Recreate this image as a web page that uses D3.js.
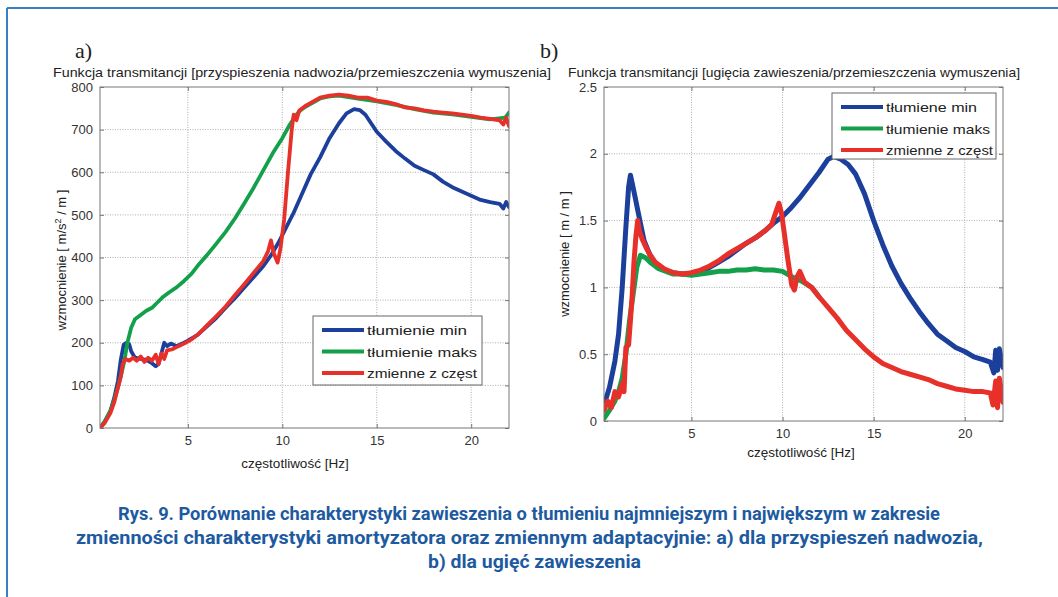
<!DOCTYPE html>
<html><head><meta charset="utf-8">
<script src="https://cdn.jsdelivr.net/npm/d3@7"></script>
<style>
html,body{margin:0;padding:0;background:#fff;}
svg text{font-family:"Liberation Sans",Arial,sans-serif;}
</style></head>
<body>
<svg id="c" width="1058" height="597"></svg>
<script>
// ---------- DATA ----------
const xTicks = [5, 10, 15, 20];
const aYTicks = [0, 100, 200, 300, 400, 500, 600, 700, 800];
const bYTicks = [0, 0.5, 1, 1.5, 2, 2.5];
const aLegend = ["tłumienie min", "tłumienie maks", "zmienne z częst"];
const bLegend = ["tłumiene min", "tłumienie maks", "zmienne z częst"];
const aTitle = "Funkcja transmitancji [przyspieszenia nadwozia/przemieszczenia wymuszenia]";
const bTitle = "Funkcja transmitancji [ugięcia zawieszenia/przemieszczenia wymuszenia]";
const captionLines = [
  "Rys. 9. Porównanie charakterystyki zawieszenia o tłumieniu najmniejszym i największym w zakresie",
  "zmienności charakterystyki amortyzatora oraz zmiennym adaptacyjnie: a) dla przyspieszeń nadwozia,",
  "b) dla ugięć zawieszenia"
];

// chart a) [frequency Hz, gain]
const aMin = [[0.35,0],[0.6,15],[0.9,40],[1.1,70],[1.3,110],[1.45,160],[1.6,195],[1.75,200],[1.9,196],[2.0,180],[2.2,165],[2.5,162],[2.8,160],[3.1,152],[3.3,145],[3.45,150],[3.6,175],[3.75,200],[3.9,192],[4.1,198],[4.4,192],[4.7,198],[5.0,205],[5.5,218],[6.0,238],[6.5,258],[7.0,282],[7.5,305],[8.0,330],[8.5,355],[9.0,380],[9.4,405],[9.8,435],[10.2,470],[10.6,505],[11.0,545],[11.5,595],[12.0,635],[12.5,680],[13.0,715],[13.4,738],[13.8,748],[14.1,746],[14.4,735],[14.7,715],[15.0,695],[15.5,672],[16.0,650],[16.5,632],[17.0,615],[17.5,605],[18.0,595],[18.5,578],[19.0,565],[19.5,555],[20.0,545],[20.5,535],[21.0,530],[21.5,526],[21.7,515],[21.85,530],[22.0,518]];
const aMax = [[0.35,0],[0.6,15],[0.9,40],[1.1,65],[1.3,95],[1.5,130],[1.65,160],[1.8,200],[2.0,235],[2.2,255],[2.5,265],[2.8,275],[3.1,282],[3.4,295],[3.7,308],[4.0,318],[4.4,330],[4.8,345],[5.2,362],[5.6,385],[6.0,405],[6.5,432],[7.0,460],[7.5,492],[8.0,528],[8.5,565],[9.0,605],[9.5,645],[10.0,680],[10.4,712],[10.7,732],[10.9,743],[11.2,753],[11.6,763],[12.0,773],[12.5,778],[13.0,780],[14.0,773],[15.0,766],[16.0,758],[17.0,748],[18.0,740],[19.0,736],[20.0,730],[21.0,724],[21.8,728],[22.0,740]];
const aVar = [[0.35,0],[0.6,12],[0.9,35],[1.1,60],[1.3,95],[1.45,120],[1.55,150],[1.7,162],[1.9,158],[2.1,165],[2.3,158],[2.5,168],[2.7,155],[2.9,165],[3.1,158],[3.3,172],[3.45,150],[3.6,175],[3.75,162],[3.9,182],[4.2,185],[4.5,192],[4.8,198],[5.2,208],[5.6,222],[6.0,240],[6.5,262],[7.0,285],[7.5,312],[8.0,338],[8.5,365],[9.0,392],[9.25,415],[9.4,440],[9.55,410],[9.75,388],[9.9,420],[10.1,490],[10.3,600],[10.5,700],[10.6,735],[10.75,722],[10.9,745],[11.2,755],[11.6,765],[12.0,775],[12.5,780],[13.0,782],[13.5,780],[14.0,775],[14.5,775],[15.0,768],[15.5,765],[16.0,760],[16.5,752],[17.0,750],[17.5,745],[18.0,742],[18.5,740],[19.0,738],[19.5,735],[20.0,732],[20.5,728],[21.0,725],[21.5,722],[21.7,712],[21.85,728],[22.0,708]];

// chart b) [frequency Hz, gain]
const bMin = [[0.2,0.12],[0.5,0.25],[0.8,0.45],[1.0,0.65],[1.2,1.0],[1.4,1.45],[1.55,1.75],[1.65,1.84],[1.75,1.78],[1.9,1.68],[2.05,1.58],[2.2,1.48],[2.4,1.35],[2.7,1.25],[3.0,1.18],[3.5,1.13],[4.0,1.11],[4.5,1.10],[5.0,1.10],[5.5,1.12],[6.0,1.15],[6.5,1.19],[7.0,1.23],[7.5,1.28],[8.0,1.33],[8.5,1.37],[9.0,1.42],[9.5,1.48],[10.0,1.53],[10.5,1.6],[11.0,1.68],[11.5,1.77],[12.0,1.86],[12.5,1.96],[12.8,1.98],[13.2,1.96],[13.6,1.92],[14.0,1.85],[14.5,1.70],[15.0,1.50],[15.5,1.32],[16.0,1.16],[16.5,1.03],[17.0,0.92],[17.5,0.82],[18.0,0.73],[18.5,0.65],[19.0,0.6],[19.5,0.55],[20.0,0.52],[20.5,0.48],[21.0,0.46],[21.4,0.44],[21.6,0.36],[21.7,0.53],[21.8,0.38],[21.9,0.54],[22.1,0.40]];
const bMax = [[0.2,0.02],[0.5,0.08],[0.8,0.15],[1.0,0.22],[1.2,0.32],[1.4,0.5],[1.6,0.75],[1.8,0.95],[2.0,1.15],[2.2,1.24],[2.5,1.22],[2.8,1.18],[3.2,1.14],[3.6,1.12],[4.0,1.10],[4.5,1.10],[5.0,1.09],[5.5,1.10],[6.0,1.11],[6.5,1.12],[7.0,1.12],[7.5,1.13],[8.0,1.13],[8.5,1.14],[9.0,1.13],[9.5,1.13],[10.0,1.12],[10.5,1.08],[11.0,1.05],[11.6,1.0],[12.0,0.93]];
const bVar = [[0.2,0.08],[0.4,0.15],[0.6,0.1],[0.8,0.22],[1.0,0.18],[1.2,0.28],[1.3,0.22],[1.4,0.55],[1.55,0.57],[1.65,0.75],[1.75,0.95],[1.85,1.2],[1.95,1.38],[2.05,1.5],[2.15,1.42],[2.3,1.36],[2.5,1.30],[2.7,1.25],[3.0,1.19],[3.5,1.14],[4.0,1.11],[4.5,1.10],[5.0,1.11],[5.5,1.13],[6.0,1.16],[6.5,1.20],[7.0,1.25],[7.5,1.29],[8.0,1.33],[8.5,1.37],[9.0,1.42],[9.4,1.47],[9.6,1.55],[9.8,1.63],[9.95,1.55],[10.1,1.40],[10.3,1.20],[10.5,1.02],[10.65,0.98],[10.8,1.08],[10.95,1.12],[11.2,1.04],[11.6,1.0],[12.0,0.93],[12.5,0.85],[13.0,0.77],[13.5,0.68],[14.0,0.61],[14.5,0.54],[15.0,0.48],[15.5,0.43],[16.0,0.40],[16.5,0.37],[17.0,0.35],[17.5,0.33],[18.0,0.31],[18.5,0.28],[19.0,0.26],[19.5,0.24],[20.0,0.23],[20.5,0.22],[21.0,0.22],[21.4,0.21],[21.55,0.12],[21.7,0.3],[21.8,0.1],[21.9,0.32],[22.1,0.14]];

const colors = ["#1c3f9c", "#14a04a", "#e8302a"];

// ---------- DRAW ----------
const svg = d3.select("#c");

// frame
svg.append("line").attr("x1",7).attr("y1",8).attr("x2",1058).attr("y2",8).attr("stroke","#3b7fc1").attr("stroke-width",2);
svg.append("line").attr("x1",7).attr("y1",8).attr("x2",7).attr("y2",597).attr("stroke","#3b7fc1").attr("stroke-width",2);

function chart(o) {
  const g = svg.append("g");
  const x = d3.scaleLinear().domain(o.xDomain).range([o.left, o.right]);
  const y = d3.scaleLinear().domain(o.yDomain).range([o.bottom, o.top]);
  const W = o.right - o.left, H = o.bottom - o.top;

  // grid
  const grid = g.append("g");
  grid.selectAll(".gx").data(xTicks).join("line")
    .attr("x1", d => x(d)).attr("x2", d => x(d)).attr("y1", o.top).attr("y2", o.bottom)
    .attr("stroke", "#9a9a9a").attr("stroke-width", 0.8).attr("stroke-dasharray", "1,1.5");
  grid.selectAll(".gy").data(o.yTicks.slice(1, -1)).join("line")
    .attr("y1", d => y(d)).attr("y2", d => y(d)).attr("x1", o.left).attr("x2", o.right)
    .attr("stroke", "#9a9a9a").attr("stroke-width", 0.8).attr("stroke-dasharray", "1,1.5");

  // axes with inward ticks
  const axB = g.append("g").attr("transform", `translate(0,${o.bottom})`)
    .call(d3.axisBottom(x).tickValues(xTicks).tickSize(-4).tickPadding(10).tickFormat(d3.format("d")));
  const axT = g.append("g").attr("transform", `translate(0,${o.top})`)
    .call(d3.axisTop(x).tickValues(xTicks).tickSize(-4).tickFormat(""));
  const axL = g.append("g").attr("transform", `translate(${o.left},0)`)
    .call(d3.axisLeft(y).tickValues(o.yTicks).tickSize(-4).tickPadding(7).tickFormat(o.fmt));
  const axR = g.append("g").attr("transform", `translate(${o.right},0)`)
    .call(d3.axisRight(y).tickValues(o.yTicks).tickSize(-4).tickFormat(""));
  [axB, axT, axL, axR].forEach(a => {
    a.select(".domain").remove();
    a.selectAll("line").attr("stroke", "#777");
    a.selectAll("text").attr("fill", "#333").style("font-size", "13px")
      .style("font-family", "'Liberation Sans',Arial,sans-serif");
  });
  axB.selectAll("text").attr("dy", "0.71em").attr("y", o.xTickY);

  // lines
  const line = d3.line().x(d => x(d[0])).y(d => y(d[1])).curve(d3.curveLinear);
  const cp = "clip" + o.id;
  g.append("clipPath").attr("id", cp).append("rect")
    .attr("x", o.left).attr("y", o.top - 3).attr("width", W).attr("height", H + 3);
  const lg = g.append("g").attr("clip-path", `url(#${cp})`);
  o.series.forEach((s, i) => {
    lg.append("path").attr("d", line(s)).attr("fill", "none")
      .attr("stroke", colors[i]).attr("stroke-width", o.sw)
      .attr("stroke-linejoin", "round").attr("stroke-linecap", "round");
  });

  // box
  g.append("rect").attr("x", o.left).attr("y", o.top).attr("width", W).attr("height", H)
    .attr("fill", "none").attr("stroke", "#777").attr("stroke-width", 1);

  // legend
  const L = o.legend;
  const leg = g.append("g");
  leg.append("rect").attr("x", L.x).attr("y", L.y).attr("width", L.w).attr("height", L.h)
    .attr("fill", "#fff").attr("stroke", "#666").attr("stroke-width", 1);
  o.legendNames.forEach((n, i) => {
    const cy = L.y + 14 + i * L.step;
    leg.append("line").attr("x1", L.x + 9).attr("x2", L.x + 51).attr("y1", cy).attr("y2", cy)
      .attr("stroke", colors[i]).attr("stroke-width", 4);
    leg.append("text").attr("x", L.x + 54).attr("y", cy + 5).text(n)
      .attr("fill", "#222").style("font-size", "13.5px").attr("textLength", L.tl[i]).attr("lengthAdjust", "spacingAndGlyphs");
  });

  // titles
  g.append("text").attr("x", o.titleX).attr("y", 77).attr("text-anchor", "middle").text(o.title)
    .attr("fill", "#222").style("font-size", "13px").attr("textLength", o.titleW).attr("lengthAdjust", "spacingAndGlyphs");
  g.append("text").attr("x", o.letterX).attr("y", 58).text(o.letter)
    .attr("fill", "#222").style("font-size", "22px").style("font-family", "'Liberation Serif','Times New Roman',serif");

  // axis labels
  g.append("text").attr("x", o.xLabelX).attr("y", o.xLabelY).attr("text-anchor", "middle")
    .text("częstotliwość [Hz]").attr("fill", "#222").style("font-size", "13.5px");
  const yl = g.append("text").attr("transform", `translate(${o.yLabelX},${o.yLabelY}) rotate(-90)`)
    .attr("text-anchor", "middle").attr("fill", "#222").style("font-size", "13px");
  o.yLabel(yl);
}

chart({
  id: "a", left: 100, right: 509, top: 87, bottom: 428,
  xDomain: [0.35, 22], yDomain: [0, 800], yTicks: aYTicks, fmt: d3.format("d"),
  xTickY: 8, sw: 3.8,
  series: [aMin, aMax, aVar],
  legend: { x: 313, y: 316, w: 169, h: 69, step: 21.5, tl: [100, 110, 110] },
  legendNames: aLegend,
  title: aTitle, titleX: 302, titleW: 498, letter: "a)", letterX: 75,
  xLabelX: 295, xLabelY: 468, yLabelX: 66, yLabelY: 260,
  yLabel: t => {
    t.append("tspan").text("wzmocnienie [ m/s");
    t.append("tspan").text("2").attr("dy", -5).style("font-size", "9px");
    t.append("tspan").text("  /  m ]").attr("dy", 5);
  }
});

chart({
  id: "b", left: 604, right: 1003, top: 87, bottom: 421,
  xDomain: [0.2, 22.1], yDomain: [0, 2.5], yTicks: bYTicks, fmt: d => String(d),
  xTickY: 8, sw: 5,
  series: [bMin, bMax, bVar],
  legend: { x: 832, y: 93, w: 164, h: 66, step: 21.5, tl: [91, 104, 107] },
  legendNames: bLegend,
  title: bTitle, titleX: 794, titleW: 452, letter: "b)", letterX: 540,
  xLabelX: 801, xLabelY: 457, yLabelX: 569, yLabelY: 254,
  yLabel: t => { t.text("wzmocnienie [ m  /  m ]"); }
});

// caption
const capY = [520, 544, 568];
const capX = [[118, 940], [76, 983], [428, 641]];
captionLines.forEach((s, i) => {
  svg.append("text").attr("x", capX[i][0]).attr("y", capY[i]).text(s)
    .attr("fill", "#1d5aa0").style("font-size", "19px").style("font-weight", "bold")
    .style("font-family", "'Liberation Sans Narrow','Roboto',sans-serif")
    .attr("textLength", capX[i][1] - capX[i][0]).attr("lengthAdjust", "spacingAndGlyphs");
});
</script>
</body></html>
